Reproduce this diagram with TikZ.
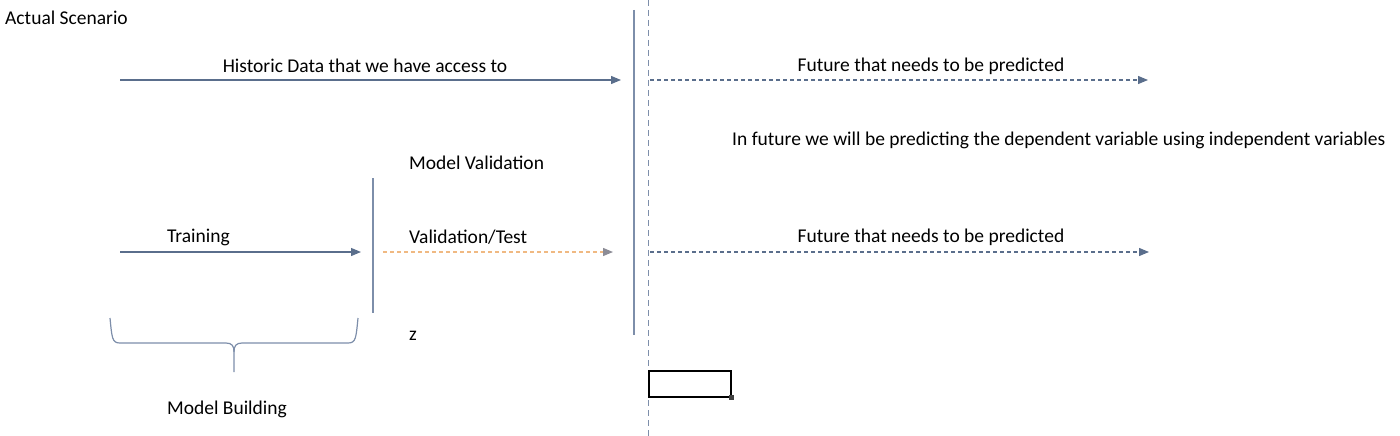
\documentclass[tikz,border=0pt]{standalone}
\usepackage{fontspec}
\setmainfont{Carlito}
\usetikzlibrary{arrows.meta}
\definecolor{arrowblue}{RGB}{90,110,140}
\definecolor{lineblue}{RGB}{125,142,170}
\definecolor{validorange}{RGB}{240,185,130}
\definecolor{tipgray}{RGB}{140,140,150}
\tikzset{
  lbl/.style={font=\fontsize{19.5}{22}\selectfont, inner sep=0pt},
  flow/.style={draw=arrowblue, line width=1.2pt, -{Triangle[length=10pt,width=8pt]}},
  futureflow/.style={flow, dash pattern=on 4pt off 3pt},
  cutline/.style={draw=lineblue, line width=1.5pt},
}
\begin{document}
\begin{tikzpicture}[x=1pt, y=-1pt]
\useasboundingbox (0,0) rectangle (1400,436);
% split lines
\coordinate (cutT) at (634,10);
\coordinate (cutB) at (634,335);
\coordinate (nowT) at (648,0);
\coordinate (nowB) at (648,436);
\draw[cutline](cutT) -- (cutB);
\draw[lineblue, line width=0.8pt, dash pattern=on 6pt off 4pt](nowT) -- (nowB);
\coordinate (valT) at (373,178);
\coordinate (valB) at (373,313);
\draw[cutline](valT) -- (valB);
% actual scenario
\node[lbl, anchor=west] (scen) at (5,18){Actual Scenario};
\coordinate (histS) at (120,80);
\coordinate (histE) at (621,80);
\draw[flow](histS) -- (histE);
\node[lbl] (hist) at (365,66){Historic Data that we have access to};
\coordinate (futS) at (650,80);
\coordinate (futE) at (1148,80);
\draw[futureflow](futS) -- (futE);
\node[lbl] (fut) at (931,66){Future that needs to be predicted};
\node[lbl, anchor=west] (note) at (732,140){In future we will be predicting the dependent variable using independent variables};
% model building
\node[lbl, anchor=west] (mval) at (409,163){Model Validation};
\coordinate (trS) at (120,252);
\coordinate (trE) at (361,252);
\draw[flow](trS) -- (trE);
\node[lbl, anchor=west] (train) at (167,237){Training};
\coordinate (vaS) at (383,252);
\coordinate (vaE) at (613,252);
\draw[validorange, line width=1.2pt, dash pattern=on 4pt off 3pt, -{Triangle[length=10pt,width=8pt,color=tipgray]}](vaS) -- (vaE);
\node[lbl, anchor=west] (valid) at (409,237){Validation/Test};
\coordinate (fuS) at (650,252);
\coordinate (fuE) at (1149,252);
\draw[futureflow](fuS) -- (fuE);
\node[lbl] (fut2) at (931,237){Future that needs to be predicted};
\node[lbl, anchor=west] (zed) at (409,336){z};
% brace
\coordinate (brL) at (110,318);
\coordinate (brR) at (358,318);
\coordinate (brTip) at (234,372);
\draw[lineblue, line width=1.2pt](brL) .. controls (112,338) and (112,343) .. (120,343)
  -- (226,343) .. controls (232,343) and (234,346) .. (234,352) -- (brTip);
\draw[lineblue, line width=1.2pt](brR) .. controls (356,338) and (356,343) .. (348,343)
  -- (242,343) .. controls (236,343) and (234,346) .. (234,352);
\node[lbl] (mbuild) at (227,409){Model Building};
% selected cell
\node[draw=black, line width=1.5pt, minimum width=82pt, minimum height=26pt, inner sep=0pt, anchor=north west] (cell) at (648,370){};
\node[fill=black!75, minimum size=5pt, inner sep=0pt] (handle) at (cell.south east){};
\end{tikzpicture}
\end{document}
